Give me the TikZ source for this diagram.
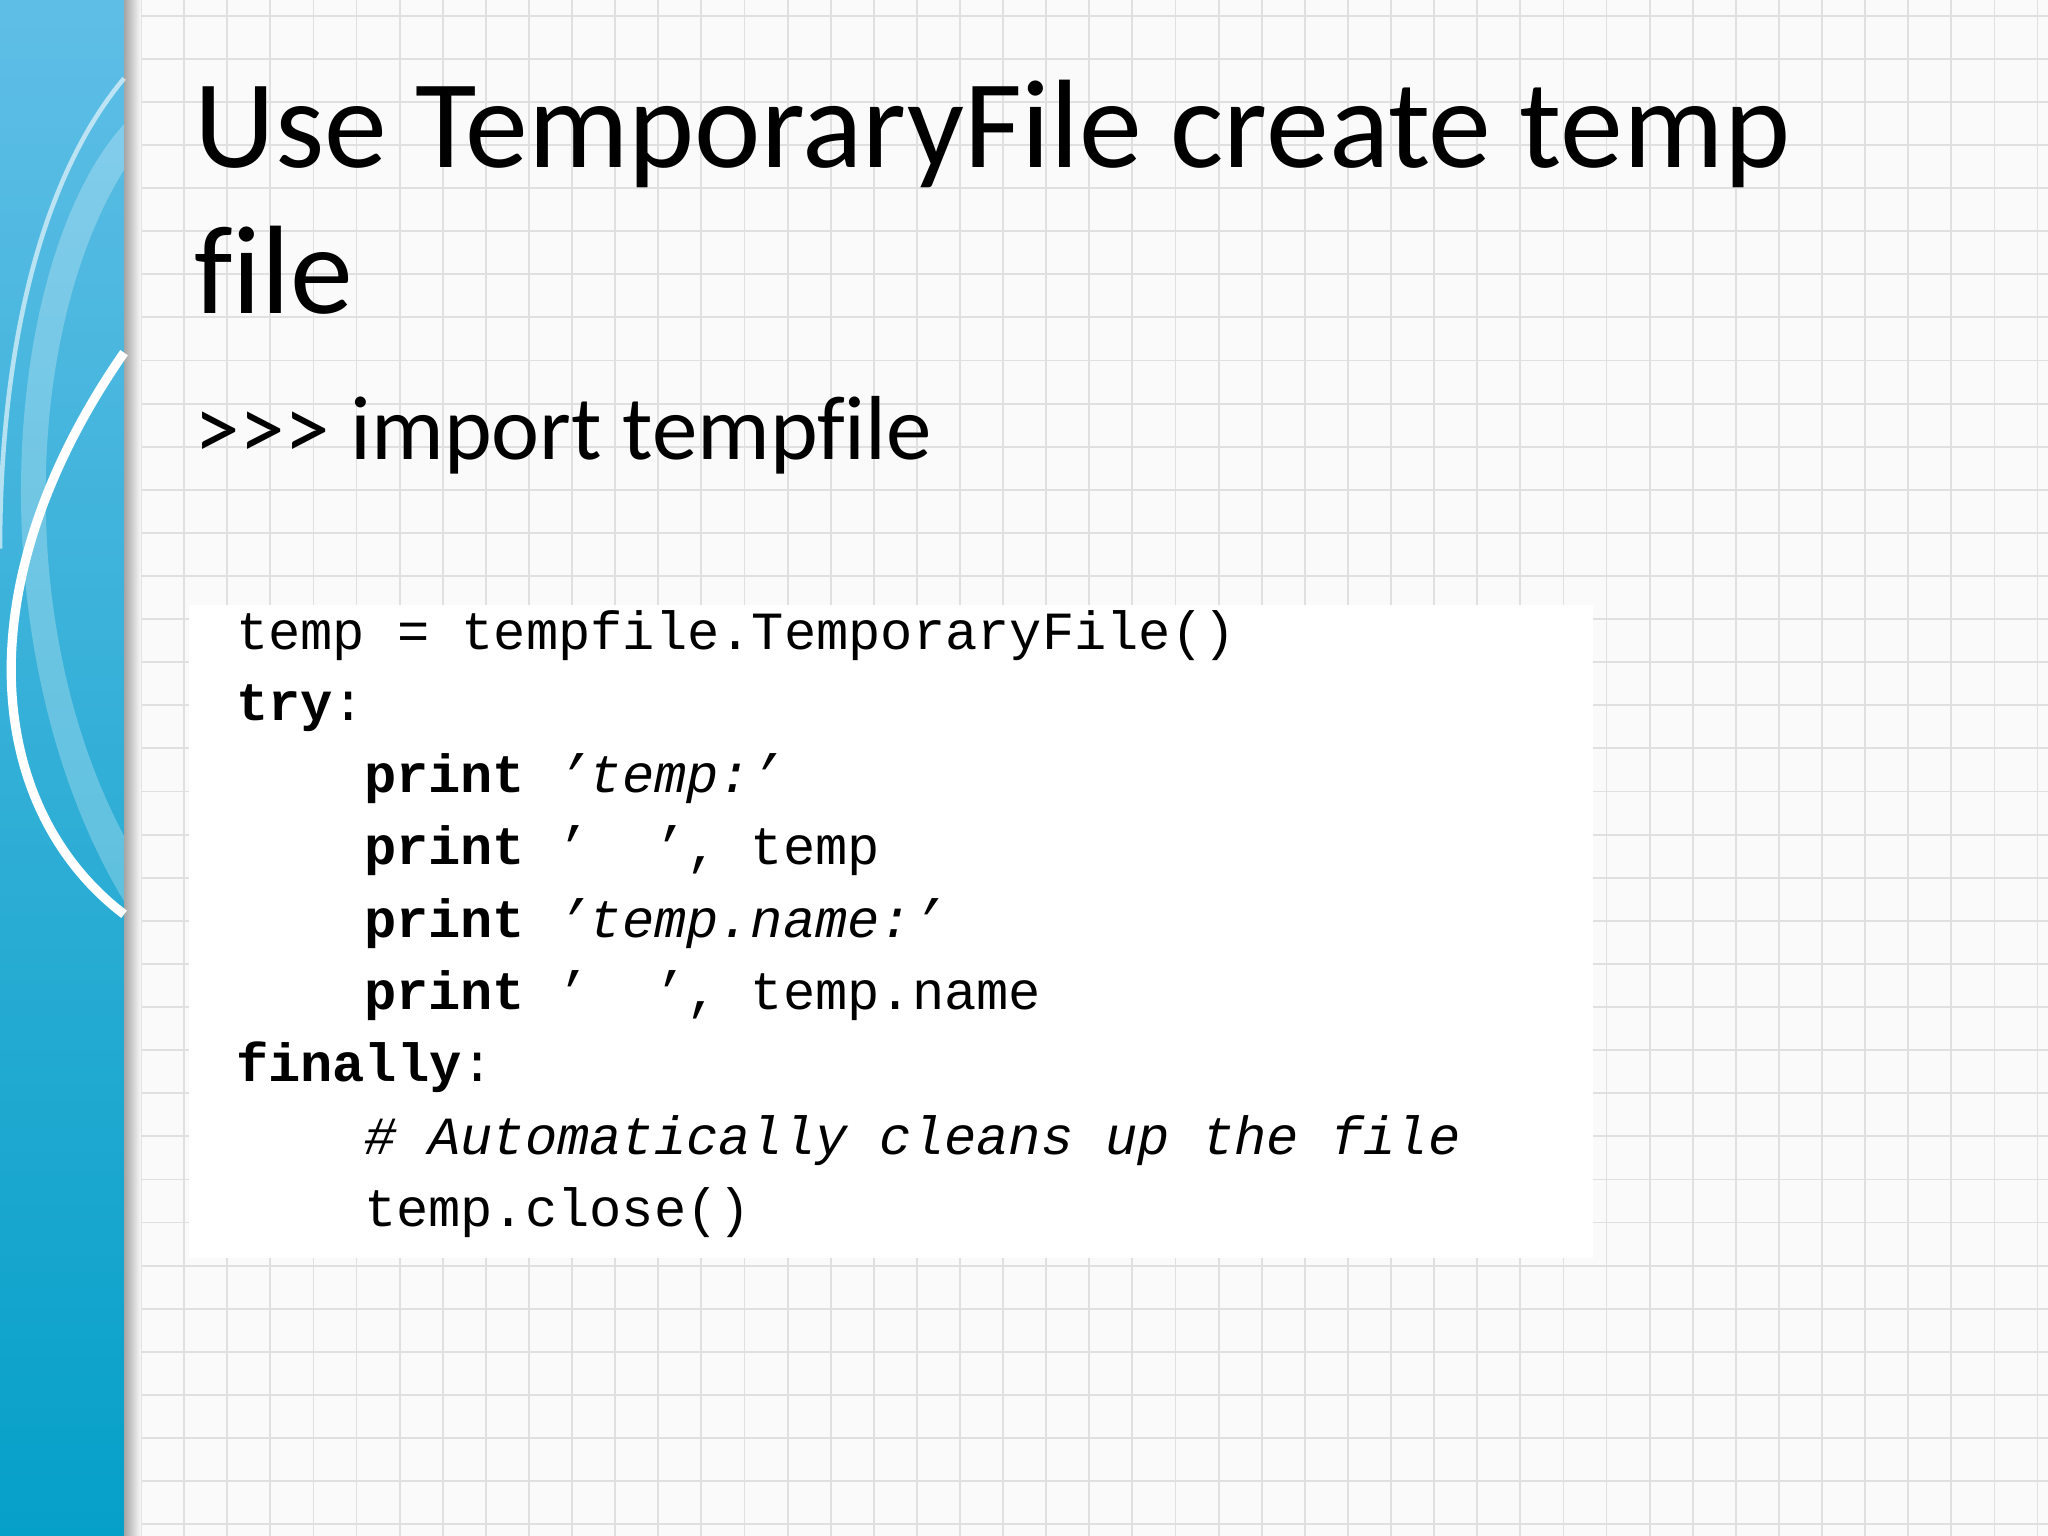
\documentclass[tikz,border=0pt]{standalone}
\usepackage{fontspec}
\setmainfont[Ligatures=NoCommon]{Carlito}
\newfontfamily\codefont{Liberation Mono}
\begin{document}
\begin{tikzpicture}[x=0.01cm,y=-0.01cm,
  code/.style={anchor=base west,inner sep=0pt,font=\codefont\fontsize{11.7}{14}\selectfont},
  ttl/.style={anchor=base west,inner sep=0pt,font=\fontsize{27.4}{32}\selectfont}]
\useasboundingbox (0,0) rectangle (1568,1176);
\fill[white!96!gray] (0,0) rectangle (1568,1176);
\foreach \x in {108,141,...,1568} \draw[black!12,line width=0.4pt] (\x,0) -- (\x,1176);
\foreach \y in {12,45,...,1176} \draw[black!12,line width=0.4pt] (95,\y) -- (1568,\y);
% left bar
\shade[top color={rgb,255:red,95;green,190;blue,230},bottom color={rgb,255:red,5;green,160;blue,200}] (0,0) rectangle (95,1176);
\shade[left color=black!35,right color=white!96!gray] (95,0) rectangle (108,1176);
\fill[white,opacity=0.25] (95,95) .. controls (0,200) and (-20,500) .. (95,690) -- (95,640) .. controls (10,480) and (20,250) .. (95,130) -- cycle;
\draw[white,line width=2pt] (95,270) .. controls (-30,450) and (-10,620) .. (95,700);
\draw[white,opacity=0.6,line width=1pt] (95,60) .. controls (20,150) and (0,300) .. (0,420);
% code background
\fill[white] (145,463) rectangle (1220,963);
\node[ttl] (t1) at (148,128) {Use TemporaryFile create temp};
\node[ttl] (t2) at (148,240) {file};
\node[anchor=base west,inner sep=0pt,font=\fontsize{19.8}{23}\selectfont] (imp) at (148,352) {>{}>{}> import tempfile};
\node[code] (c1) at (180,497) {temp = tempfile.TemporaryFile()};
\node[code] (c2) at (180,552) {\textbf{try}:};
\node[code] (c3) at (278,607) {\textbf{print} \textit{’temp:’}};
\node[code] (c4) at (278,662) {\textbf{print} ’\ \ ’, temp};
\node[code] (c5) at (278,718) {\textbf{print} \textit{’temp.name:’}};
\node[code] (c6) at (278,773) {\textbf{print} ’\ \ ’, temp.name};
\node[code] (c7) at (180,828) {\textbf{finally}:};
\node[code] (c8) at (278,884) {\textit{\# Automatically cleans up the file}};
\node[code] (c9) at (278,939) {temp.close()};
\end{tikzpicture}
\end{document}
